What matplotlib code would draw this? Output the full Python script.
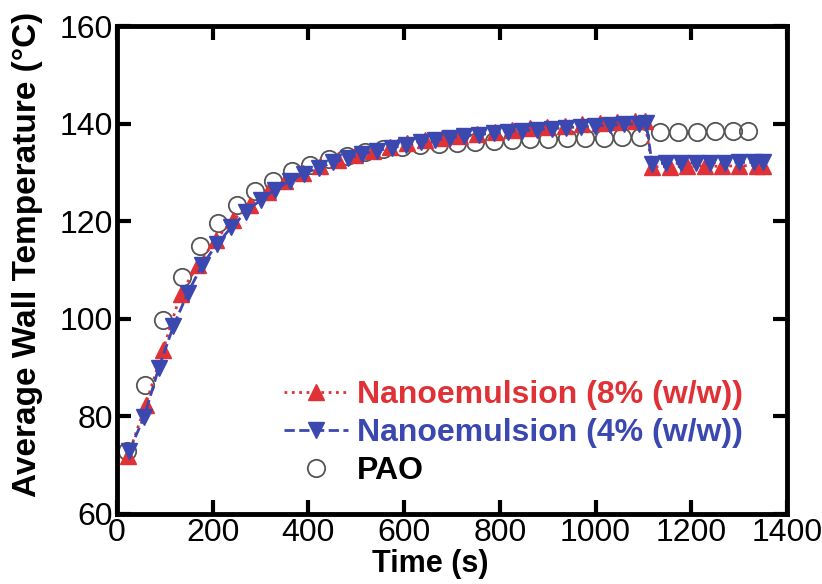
import numpy as np
import matplotlib
matplotlib.use('Agg')
import matplotlib.pyplot as plt

plt.rcParams['font.family'] = ['Liberation Sans', 'DejaVu Sans']

# PAO (circles)
t_pao = [20, 59, 97, 135, 173, 212, 250, 289, 326, 365, 403, 442, 480, 518,
         556, 595, 634, 672, 710, 748, 787, 825, 864, 901, 940, 978, 1017,
         1055, 1093, 1135, 1173, 1211, 1250, 1287, 1319]
T_pao = [72.8, 86.3, 99.7, 108.5, 115.0, 119.7, 123.3, 126.2, 128.2, 130.3,
         131.6, 132.7, 133.5, 134.2, 134.8, 135.2, 135.6, 135.9, 136.1, 136.3,
         136.5, 136.6, 136.8, 136.9, 137.0, 137.1, 137.2, 137.3, 137.4,
         138.4, 138.4, 138.4, 138.5, 138.5, 138.5]

# Nanoemulsion 8% (w/w)
t_n8 = [23, 60, 96, 133, 169, 206, 242, 279, 315, 352, 388, 425, 461, 498,
        534, 571, 607, 644, 680, 717, 753, 790, 826, 863, 899, 936, 972, 1009,
        1045, 1082, 1103, 1118, 1155, 1191, 1228, 1264, 1300, 1337, 1349]
T_n8 = [71.8, 82.3, 93.5, 105.1, 111.0, 116.2, 120.2, 123.4, 126.0, 128.2,
        129.9, 131.3, 132.6, 133.6, 134.5, 135.3, 136.0, 136.6, 137.1, 137.6,
        138.0, 138.4, 138.8, 139.1, 139.4, 139.6, 139.9, 140.1, 140.3, 140.5,
        140.6, 131.2, 131.2, 131.3, 131.3, 131.3, 131.4, 131.4, 131.4]

# Nanoemulsion 4% (w/w)
t_n4 = [26, 57, 87, 118, 148, 178, 209, 239, 270, 300, 330, 361, 391, 422,
        452, 483, 513, 543, 574, 604, 635, 665, 695, 726, 756, 787, 817, 847,
        878, 908, 939, 969, 999, 1030, 1060, 1091, 1106, 1118, 1148, 1179,
        1209, 1240, 1270, 1300, 1331, 1349]
T_n4 = [72.9, 79.9, 89.8, 98.5, 105.3, 111.0, 115.3, 118.8, 121.9, 124.4,
        126.5, 128.3, 129.8, 131.0, 132.1, 133.0, 133.8, 134.5, 135.1, 135.7,
        136.2, 136.7, 137.1, 137.5, 137.8, 138.1, 138.4, 138.6, 138.8, 139.0,
        139.2, 139.4, 139.6, 139.7, 139.9, 140.0, 140.1, 131.8, 131.9, 131.9,
        132.0, 132.0, 132.0, 132.1, 132.1, 132.1]

labels = ['Nanoemulsion (8% (w/w))', 'Nanoemulsion (4% (w/w))', 'PAO']
red = '#e03236'
blue = '#3a48b0'

fig = plt.figure(figsize=(8.22, 5.84), dpi=100)
ax = fig.add_axes([0.1423, 0.1207, 0.8151, 0.834])

ax.plot(t_pao, T_pao, 'o', ms=12.5, mfc='none', mec='#555555', mew=1.3,
        label=labels[2], zorder=2)
ax.plot(t_n8, T_n8, ls=':', color=red, lw=2, marker='^', ms=11.5,
        mfc=red, mec=red, label=labels[0], zorder=3)
ax.plot(t_n4, T_n4, ls='--', color=blue, lw=2, marker='v', ms=11.5,
        mfc=blue, mec=blue, label=labels[1], zorder=4)

ax.set_xlim(0, 1400)
ax.set_ylim(60, 160)
ax.set_xticks([0, 200, 400, 600, 800, 1000, 1200, 1400])
ax.set_yticks([60, 80, 100, 120, 140, 160])
ax.tick_params(direction='in', length=10, width=3, labelsize=23,
               top=True, right=True, pad=3)
for s in ax.spines.values():
    s.set_linewidth(3.5)

ax.set_xlabel('Time (s)', fontsize=22, fontweight='bold')
ax.xaxis.set_label_coords(0.467, -0.073)
ax.set_ylabel('Average Wall Temperature (°C)', fontsize=24,
              fontweight='bold')
ax.yaxis.set_label_coords(-0.11, 0.531)

h, l = ax.get_legend_handles_labels()
order = [1, 2, 0]
leg = ax.legend([h[i] for i in order], [l[i] for i in order],
                loc='lower left', bbox_to_anchor=(0.225, 0.024),
                frameon=False, handlelength=2.0,
                handletextpad=0.3, labelspacing=0.25, borderpad=0,
                prop={'weight': 'bold', 'size': 23})
for txt, c in zip(leg.get_texts(), [red, blue, 'black']):
    txt.set_color(c)

fig.savefig('out.png', dpi=100)
